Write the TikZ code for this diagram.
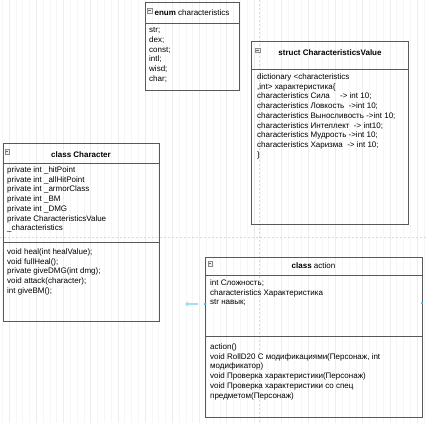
\documentclass[tikz,border=0pt]{standalone}
\usepackage{fontspec}
\setmainfont{Liberation Sans}
\usetikzlibrary{positioning,arrows.meta}
\definecolor{hoverblue}{RGB}{41,182,242}
\tikzset{
  umlbox/.style={draw=black!65, line width=0.8pt, inner sep=0pt, anchor=north west},
  umlsep/.style={draw=black!65, line width=0.8pt},
  umltitle/.style={font=\fontsize{8}{9.7}\selectfont, inner sep=0pt},
  umltext/.style={font=\fontsize{8}{9.7}\selectfont, align=left, anchor=north west, inner sep=0pt},
  foldicon/.style={draw=black!45, fill=black!6, minimum size=4.5pt, inner sep=0pt, line width=0.4pt,
    path picture={\draw[black!60, line width=0.5pt] ([xshift=1pt]path picture bounding box.west) -- ([xshift=-1pt]path picture bounding box.east);}},
  gridminor/.style={draw=black!3.5, line width=0.25pt},
  gridmajor/.style={draw=black!7, line width=0.3pt},
  pagebreak/.style={draw=black!15, dash pattern=on 2pt off 2pt, line width=0.6pt},
  hoverdot/.style={circle, fill=hoverblue, inner sep=0pt, minimum size=2.5pt},
}

\begin{document}
\begin{tikzpicture}[x=1pt, y=-1pt]
  \useasboundingbox (0,0) rectangle (427,423);
  \fill[white] (0,0) rectangle (427,423);
  % background grid
  \begin{scope}[shift={(9,22.7)}]
    \draw[gridminor, xstep=6.8, ystep=6.8] (-9,-22.7) grid (418,400.3);
    \draw[gridmajor, xstep=27.2, ystep=27.2] (-9,-22.7) grid (418,400.3);
  \end{scope}
  \draw[pagebreak] (0,237) -- (427,237);
  \draw[pagebreak] (259,0) -- (259,423);

  % enum characteristics
  \node[umlbox, minimum width=94pt, minimum height=88pt] (enumbox) at (145,2) {};
  \draw[umlsep] (145,23) -- (239,23);
  \node[foldicon] (enumicon) at (149.5,10.5) {};
  \node[umltitle] (enumtitle) at (192,12.5) {\textbf{enum} characteristics};
  \node[umltext] (enumbody) at (149,27.5) {str;\\dex;\\const;\\intl;\\wisd;\\char;};

  % struct CharacteristicsValue
  \node[umlbox, minimum width=157pt, minimum height=183pt] (valuebox) at (251,41) {};
  \draw[umlsep] (251,69) -- (408,69);
  \node[foldicon] (valueicon) at (257.5,50) {};
  \node[umltitle] (valuetitle) at (330,52.5) {\textbf{struct CharacteristicsValue}};
  \node[umltext] (valuebody) at (257,73.5) {dictionary <characteristics\\
    ,int> характеристика\{\\
    characteristics Сила \quad -> int 10;\\
    characteristics Ловкость \ ->int 10;\\
    characteristics Выносливость ->int 10;\\
    characteristics Интеллект \ -> int10;\\
    characteristics Мудрость ->int 10;\\
    characteristics Харизма \ -> int 10;\\
    \}};

  % class Character
  \node[umlbox, minimum width=156pt, minimum height=178pt] (charbox) at (3,143) {};
  \draw[umlsep] (3,163) -- (159,163);
  \draw[umlsep] (3,242) -- (159,242);
  \node[foldicon] (charicon) at (7,151.5) {};
  \node[umltitle] (chartitle) at (81,154.5) {\textbf{class Character}};
  \node[umltext] (charattr) at (7,166.5) {private int \_hitPoint\\
    private int \_allHitPoint\\
    private int \_armorClass\\
    private int \_BM\\
    private int \_DMG\\
    private CharacteristicsValue\\
    \_characteristics};
  \node[umltext] (charops) at (7,248.5) {void heal(int healValue);\\
    void fullHeal();\\
    private giveDMG(int dmg);\\
    void attack(character);\\
    int giveBM();};

  % class action
  \node[umlbox, minimum width=217pt, minimum height=160pt] (actbox) at (205,257) {};
  \draw[umlsep] (205,275) -- (422,275);
  \node[foldicon] (acticon) at (210,263.5) {};
  \node[umltitle] (acttitle) at (313.5,265.5) {\textbf{class} action};
  \node[umltext] (actattr) at (210,279.5) {int Сложность;\\
    characteristics Характеристика\\
    str навык;};
  \draw[umlsep] (205,336) -- (422,336);
  \node[umltext] (actops) at (210,343.5) {action()\\
    void RollD20 С модификациями(Персонаж, int\\
    модификатор)\\
    void Проверка характеристики(Персонаж)\\
    void Проверка характеристики со спец\\
    предметом(Персонаж)};

  % hover markers
  \node[hoverdot] (leftdot) at (205,304) {};
  \node[hoverdot] (rightdot) at (422,303) {};
  \coordinate (hovertail) at (198,304);
  \coordinate (hoverhead) at (185,304);
  \draw[hoverblue!45, line width=1.5pt, -{Triangle[length=3pt, width=5pt]}] (hovertail) -- (hoverhead);
\end{tikzpicture}
\end{document}
